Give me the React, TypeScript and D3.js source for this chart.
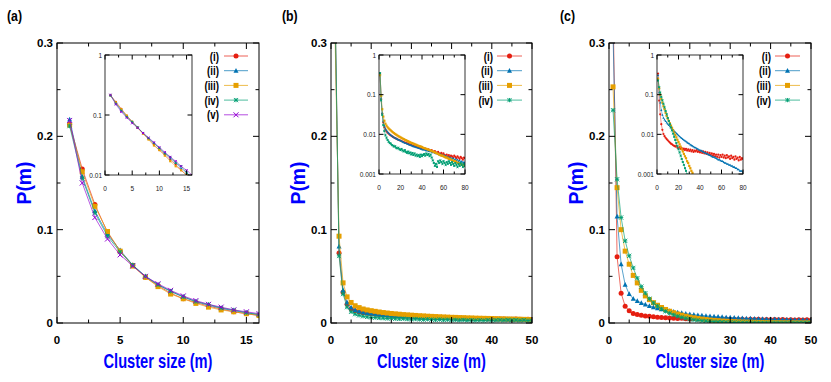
import React from 'react';
import * as d3 from 'd3';

// ---- data (m = 1, 2, 3, ...) ----
const aI = [0.213, 0.165, 0.127, 0.097, 0.077, 0.062, 0.049, 0.040, 0.032, 0.026, 0.022, 0.018, 0.015, 0.012, 0.010, 0.008];
const aII = [0.218, 0.157, 0.120, 0.095, 0.078, 0.062, 0.050, 0.041, 0.034, 0.028, 0.023, 0.019, 0.016, 0.013, 0.011, 0.009];
const aIII = [0.212, 0.162, 0.125, 0.098, 0.077, 0.061, 0.049, 0.039, 0.031, 0.026, 0.021, 0.017, 0.014, 0.012, 0.010, 0.008];
const aIV = [0.211, 0.155, 0.118, 0.093, 0.076, 0.062, 0.050, 0.041, 0.034, 0.028, 0.023, 0.020, 0.016, 0.014, 0.011, 0.009];
const aV = [0.217, 0.150, 0.113, 0.090, 0.073, 0.061, 0.050, 0.042, 0.035, 0.029, 0.024, 0.020, 0.017, 0.014, 0.012, 0.010];

const bI = [0.34, 0.075, 0.033, 0.020, 0.0150, 0.0130, 0.0118, 0.0110, 0.0104, 0.0098,
  0.0094, 0.0090, 0.0086, 0.0083, 0.0080, 0.0078, 0.0075, 0.0073, 0.0071, 0.0070,
  0.0067, 0.0066, 0.0064, 0.0062, 0.0061, 0.0059, 0.0058, 0.0056, 0.0055, 0.0054,
  0.0052, 0.0051, 0.0050, 0.0049, 0.0048, 0.0047, 0.0046, 0.0045, 0.0044, 0.0046,
  0.0043, 0.0042, 0.0044, 0.0041, 0.0040, 0.0042, 0.0039, 0.0038, 0.0040, 0.0037,
  0.0036, 0.0038, 0.0035, 0.0034, 0.0036, 0.0033, 0.0032, 0.0034, 0.0031, 0.0033,
  0.0030, 0.0029, 0.0031, 0.0028, 0.0030, 0.0027, 0.0029, 0.0028, 0.0026, 0.0029,
  0.0027, 0.0025, 0.0028, 0.0026, 0.0024, 0.0027, 0.0025, 0.0023, 0.0026, 0.0025];
const bII = [0.33, 0.082, 0.035, 0.022, 0.0165, 0.0140, 0.0126, 0.0116, 0.0108, 0.0101,
  0.0096, 0.0091, 0.0087, 0.0084, 0.0081, 0.0078, 0.0076, 0.0073, 0.0071, 0.0069,
  0.0067, 0.0065, 0.0063, 0.0061, 0.0060, 0.0058, 0.0057, 0.0055, 0.0054, 0.0053,
  0.0051, 0.0050, 0.0049, 0.0048, 0.0047, 0.0046, 0.0045, 0.0044, 0.0043, 0.0042,
  0.0041, 0.0042, 0.0040, 0.0039, 0.0040, 0.0038, 0.0037, 0.0038, 0.0036, 0.0035,
  0.0036, 0.0034, 0.0033, 0.0034, 0.0032, 0.0031, 0.0032, 0.0030, 0.0029, 0.0030,
  0.0028, 0.0029, 0.0027, 0.0026, 0.0027, 0.0025, 0.0026, 0.0024, 0.0025, 0.0023,
  0.0024, 0.0022, 0.0023, 0.0021, 0.0022, 0.0020, 0.0021, 0.0019, 0.0020, 0.0019];
const bIII = [0.31, 0.093, 0.043, 0.028, 0.022, 0.0185, 0.0165, 0.0150, 0.0140, 0.0132,
  0.0125, 0.0118, 0.0112, 0.0107, 0.0102, 0.0098, 0.0094, 0.0090, 0.0087, 0.0084,
  0.0081, 0.0078, 0.0076, 0.0073, 0.0071, 0.0069, 0.0067, 0.0065, 0.0063, 0.0061,
  0.0060, 0.0058, 0.0057, 0.0055, 0.0054, 0.0052, 0.0051, 0.0050, 0.0049, 0.0048,
  0.0046, 0.0045, 0.0044, 0.0043, 0.0042, 0.0041, 0.0040, 0.0039, 0.0038, 0.0037,
  0.0036, 0.0035, 0.0034, 0.0033, 0.0032, 0.0031, 0.0030, 0.0029, 0.0029, 0.0028,
  0.0027, 0.0026, 0.0026, 0.0025, 0.0024, 0.0024, 0.0023, 0.0022, 0.0022, 0.0021,
  0.0021, 0.0020, 0.0019, 0.0019, 0.0018, 0.0018, 0.0017, 0.0017, 0.0016, 0.0016];
const bIV = [0.35, 0.072, 0.031, 0.017, 0.0120, 0.0095, 0.0082, 0.0072, 0.0065, 0.0060,
  0.0058, 0.0054, 0.0052, 0.0049, 0.0050, 0.0046, 0.0044, 0.0046, 0.0042, 0.0040,
  0.0043, 0.0039, 0.0037, 0.0040, 0.0036, 0.0034, 0.0037, 0.0033, 0.0035, 0.0031,
  0.0034, 0.0030, 0.0033, 0.0029, 0.0031, 0.0028, 0.0030, 0.0027, 0.0031, 0.0028,
  0.0030, 0.0032, 0.0029, 0.0033, 0.0030, 0.0032, 0.0028, 0.0031, 0.0026, 0.0022,
  0.0019, 0.0016, 0.0018, 0.0015, 0.0021, 0.0019, 0.0022, 0.0020, 0.0018, 0.0021,
  0.0019, 0.0017, 0.0020, 0.0018, 0.0021, 0.0019, 0.0017, 0.0020, 0.0018, 0.0016,
  0.0019, 0.0017, 0.0015, 0.0018, 0.0016, 0.0019, 0.0017, 0.0015, 0.0018, 0.0016];

const cI = [0.34, 0.071, 0.032, 0.018, 0.013, 0.0102, 0.0090, 0.0082, 0.0076, 0.0071,
  0.0066, 0.0062, 0.0058, 0.0056, 0.0053, 0.0051, 0.0049, 0.0052, 0.0046, 0.0044,
  0.0048, 0.0043, 0.0045, 0.0041, 0.0044, 0.0040, 0.0043, 0.0039, 0.0042, 0.0038,
  0.0041, 0.0037, 0.0040, 0.0036, 0.0039, 0.0037, 0.0040, 0.0036, 0.0038, 0.0035,
  0.0038, 0.0034, 0.0037, 0.0033, 0.0036, 0.0032, 0.0035, 0.0031, 0.0034, 0.0030,
  0.0033, 0.0029, 0.0032, 0.0028, 0.0031, 0.0027, 0.0031, 0.0026, 0.0030, 0.0027,
  0.0031, 0.0026, 0.0029, 0.0025, 0.0030, 0.0026, 0.0028, 0.0024, 0.0029, 0.0025,
  0.0027, 0.0023, 0.0028, 0.0024, 0.0026, 0.0022, 0.0027, 0.0023, 0.0025, 0.0024];
const cII = [0.31, 0.114, 0.063, 0.041, 0.031, 0.026, 0.0235, 0.0215, 0.0198, 0.0183,
  0.0170, 0.0158, 0.0147, 0.0137, 0.0128, 0.0120, 0.0113, 0.0106, 0.0100, 0.0094,
  0.0089, 0.0084, 0.0080, 0.0076, 0.0072, 0.0069, 0.0066, 0.0063, 0.0060, 0.0058,
  0.0055, 0.0053, 0.0051, 0.0049, 0.0047, 0.0046, 0.0044, 0.0043, 0.0041, 0.0040,
  0.0039, 0.0038, 0.0036, 0.0035, 0.0034, 0.0033, 0.0032, 0.0031, 0.0030, 0.0029,
  0.0028, 0.0027, 0.0027, 0.0026, 0.0025, 0.0024, 0.0023, 0.0023, 0.0022, 0.0021,
  0.0021, 0.0020, 0.0019, 0.0019, 0.0018, 0.0018, 0.0017, 0.0017, 0.0016, 0.0016,
  0.0015, 0.0015, 0.0014, 0.0014, 0.0013, 0.0013, 0.0012, 0.0012, 0.0012, 0.0011];
const cIII = [0.253, 0.145, 0.100, 0.077, 0.063, 0.051, 0.043, 0.035, 0.029, 0.025,
  0.0218, 0.0190, 0.0166, 0.0145, 0.0126, 0.0110, 0.0096, 0.0084, 0.0073, 0.0064,
  0.0056, 0.0049, 0.0042, 0.0037, 0.0032, 0.0028, 0.0025, 0.0021, 0.0019, 0.0016,
  0.0014, 0.0012, 0.00107, 0.00093, 0.00081, 0.00071, 0.00062, 0.00054, 0.00047, 0.00041,
  0.00036, 0.00031, 0.00027, 0.00024, 0.00021, 0.00018, 0.00016, 0.00014, 0.00012, 0.00011];
const cIV = [0.228, 0.154, 0.113, 0.088, 0.072, 0.059, 0.048, 0.039, 0.032, 0.026,
  0.0215, 0.0180, 0.0150, 0.0125, 0.0104, 0.0087, 0.0072, 0.0060, 0.0050, 0.0042,
  0.0035, 0.0029, 0.0024, 0.0020, 0.0017, 0.0014, 0.0012, 0.00098, 0.00082, 0.00068,
  0.00057, 0.00047, 0.00039, 0.00033, 0.00027, 0.00023, 0.00019, 0.00016, 0.00013, 0.00011,
  0.00009, 0.00008, 0.00006, 0.00005, 0.00004, 0.00004, 0.00003, 0.00003, 0.00002, 0.00002];

const COLORS = ['#e51e10', '#0072b2', '#e69f00', '#009e73', '#9400d3'];
const LABELS = ['(i)', '(ii)', '(iii)', '(iv)', '(v)'];
const SHAPES = ['circle', 'triangle', 'square', 'star', 'cross'];

const mainYMajor = [0, 0.1, 0.2, 0.3];
const mainYMinor = [0.05, 0.15, 0.25];
const insetYLabels = ['1', '0.1', '0.01', '0.001'];

const FONT = '"Liberation Sans", Arial, sans-serif';

const panels = [
  {
    id: 'a', tag: '(a)', tagX: 7,
    left: 57, right: 259, top: 43, bottom: 323,
    xMax: 16, xMajor: [0, 5, 10, 15], xMinor: [2.5, 7.5, 12.5],
    series: [aI, aII, aIII, aIV, aV],
    inset: { left: 105, right: 192, top: 55, bottom: 175, xMax: 16, xMajor: [0, 5, 10, 15], xMinor: [2.5, 7.5, 12.5], yMin: 0.01 },
    legend: { textX: 219, x1: 224, x2: 248 },
  },
  {
    id: 'b', tag: '(b)', tagX: 282,
    left: 331, right: 532, top: 43, bottom: 323,
    xMax: 50, xMajor: [0, 10, 20, 30, 40, 50], xMinor: [5, 15, 25, 35, 45],
    series: [bI, bII, bIII, bIV],
    inset: { left: 379, right: 465, top: 55, bottom: 174, xMax: 80, xMajor: [0, 20, 40, 60, 80], xMinor: [10, 30, 50, 70], yMin: 0.001 },
    legend: { textX: 493, x1: 497, x2: 522 },
  },
  {
    id: 'c', tag: '(c)', tagX: 560,
    left: 609, right: 811, top: 43, bottom: 323,
    xMax: 50, xMajor: [0, 10, 20, 30, 40, 50], xMinor: [5, 15, 25, 35, 45],
    series: [cI, cII, cIII, cIV],
    inset: { left: 657, right: 743, top: 55, bottom: 174, xMax: 80, xMajor: [0, 20, 40, 60, 80], xMinor: [10, 30, 50, 70], yMin: 0.001 },
    legend: { textX: 771, x1: 775, x2: 800 },
  },
];

function Marker({ shape, x, y, s, color }) {
  const h = s / 2;
  if (shape === 'circle') return <circle cx={x} cy={y} r={h} fill={color} />;
  if (shape === 'square') return <rect x={x - h} y={y - h} width={s} height={s} fill={color} />;
  if (shape === 'triangle')
    return <path d={`M${x},${y - h * 1.1}L${x + h},${y + h * 0.8}L${x - h},${y + h * 0.8}Z`} fill={color} />;
  if (shape === 'star') {
    const k = h * 0.85;
    return (
      <path
        d={`M${x - k},${y}H${x + k}M${x},${y - k}V${y + k}M${x - k},${y - k}L${x + k},${y + k}M${x - k},${y + k}L${x + k},${y - k}`}
        stroke={color} strokeWidth={0.9} fill="none"
      />
    );
  }
  return (
    <path d={`M${x - h},${y - h}L${x + h},${y + h}M${x - h},${y + h}L${x + h},${y - h}`} stroke={color} strokeWidth={1} fill="none" />
  );
}

function Ticks({ x, y, xMajor, xMinor, yMajor, yMinor, L, l }) {
  const [x0, x1] = x.range();
  const [y0, y1] = y.range();
  let d = '';
  xMajor.forEach((v) => { const p = x(v); d += `M${p},${y0}v${-L}M${p},${y1}v${L}`; });
  xMinor.forEach((v) => { const p = x(v); d += `M${p},${y0}v${-l}M${p},${y1}v${l}`; });
  yMajor.forEach((v) => { const p = y(v); d += `M${x0},${p}h${L}M${x1},${p}h${-L}`; });
  yMinor.forEach((v) => { const p = y(v); d += `M${x0},${p}h${l}M${x1},${p}h${-l}`; });
  return <path d={d} stroke="#000" strokeWidth={1} fill="none" />;
}

function Panel({ p }) {
  const x = d3.scaleLinear().domain([0, p.xMax]).range([p.left, p.right]);
  const y = d3.scaleLinear().domain([0, 0.3]).range([p.bottom, p.top]);
  const ins = p.inset;
  const xi = d3.scaleLinear().domain([0, ins.xMax]).range([ins.left, ins.right]);
  const yi = d3.scaleLog().domain([ins.yMin, 1]).range([ins.bottom, ins.top]);
  const yiTicks = ins.yMin === 0.01 ? [1, 0.1, 0.01] : [1, 0.1, 0.01, 0.001];

  const line = d3.line<number>().x((_, i) => x(i + 1)).y((v) => y(v));
  const lineI = d3.line<number>().x((_, i) => xi(i + 1)).y((v) => yi(v));

  const cx = (p.left + p.right) / 2;
  const cy = (p.top + p.bottom) / 2;

  return (
    <g>
      <defs>
        <clipPath id={`clip-${p.id}`}>
          <rect x={p.left} y={p.top} width={p.right - p.left} height={p.bottom - p.top} />
        </clipPath>
        <clipPath id={`clipi-${p.id}`}>
          <rect x={ins.left} y={ins.top} width={ins.right - ins.left} height={ins.bottom - ins.top} />
        </clipPath>
      </defs>

      {/* main series */}
      <g clipPath={`url(#clip-${p.id})`}>
        {p.series.map((s, k) => (
          <g key={k}>
            <path d={line(s.filter((_, i) => i + 1 <= p.xMax + 1))} fill="none" stroke={COLORS[k]} strokeOpacity={0.65} strokeWidth={1} />
            {s.map((v, i) => (i + 1 <= p.xMax ?
              <Marker key={i} shape={SHAPES[k]} x={x(i + 1)} y={y(v)} s={5} color={COLORS[k]} /> : null))}
          </g>
        ))}
      </g>

      {/* inset series */}
      <g clipPath={`url(#clipi-${p.id})`}>
        {p.series.map((s, k) => (
          <g key={k}>
            <path d={lineI(s)} fill="none" stroke={COLORS[k]} strokeOpacity={0.6} strokeWidth={0.8} />
            {s.map((v, i) => (
              <Marker key={i} shape={SHAPES[k]} x={xi(i + 1)} y={yi(v)} s={2.2} color={COLORS[k]} />
            ))}
          </g>
        ))}
      </g>

      {/* main frame */}
      <rect x={p.left} y={p.top} width={p.right - p.left} height={p.bottom - p.top} fill="none" stroke="#000" strokeWidth={1} />
      <Ticks x={x} y={y} xMajor={p.xMajor} xMinor={p.xMinor} yMajor={mainYMajor} yMinor={mainYMinor} L={6} l={3.5} />
      {mainYMajor.map((v) => (
        <text key={v} x={p.left - 4} y={y(v) + 4} textAnchor="end" fontSize={11.5} fontWeight="bold" fontFamily={FONT}>
          {v === 0 ? '0' : String(v)}
        </text>
      ))}
      {p.xMajor.map((v) => (
        <text key={v} x={x(v)} y={344} textAnchor="middle" fontSize={11.5} fontWeight="bold" fontFamily={FONT}>
          {String(v)}
        </text>
      ))}

      {/* inset frame */}
      <rect x={ins.left} y={ins.top} width={ins.right - ins.left} height={ins.bottom - ins.top} fill="none" stroke="#000" strokeWidth={0.8} />
      <Ticks x={xi} y={yi} xMajor={ins.xMajor} xMinor={ins.xMinor} yMajor={yiTicks} yMinor={[]} L={4.5} l={2.5} />
      {yiTicks.map((v, k) => (
        <text key={v} x={ins.left - 3} y={yi(v) + 2.5} textAnchor="end" fontSize={6.5} fontFamily={FONT} fill="#222">
          {insetYLabels[k]}
        </text>
      ))}
      {ins.xMajor.map((v) => (
        <text key={v} x={xi(v)} y={ins.bottom + 16} textAnchor="middle" fontSize={6.5} fontFamily={FONT} fill="#222">
          {String(v)}
        </text>
      ))}

      {/* legend */}
      {p.series.map((_, k) => {
        const ly = 56 + k * 14.7;
        const mx = (p.legend.x1 + p.legend.x2) / 2;
        return (
          <g key={k}>
            <text transform={`translate(${p.legend.textX},${ly + 4.5}) scale(0.78,1)`} textAnchor="end" fontSize={12.5} fontWeight="bold" fontFamily={FONT}>
              {LABELS[k]}
            </text>
            <line x1={p.legend.x1} x2={p.legend.x2} y1={ly} y2={ly} stroke={COLORS[k]} strokeOpacity={0.7} strokeWidth={1} />
            <Marker shape={SHAPES[k]} x={mx} y={ly} s={5} color={COLORS[k]} />
          </g>
        );
      })}

      {/* titles */}
      <text x={cx} y={368} textAnchor="middle" fontSize={21} fontWeight="bold" fontFamily={FONT} fill="#0000ff"
        textLength={109} lengthAdjust="spacingAndGlyphs">
        Cluster size (m)
      </text>
      <text transform={`translate(${p.left - 26},${cy}) rotate(-90)`} textAnchor="middle" fontSize={21} fontWeight="bold"
        fontFamily={FONT} fill="#0000ff" textLength={43} lengthAdjust="spacingAndGlyphs">
        P(m)
      </text>
      <text transform={`translate(${p.tagX},21) scale(0.88,1)`} fontSize={14} fontWeight="bold" fontFamily={FONT}>
        {p.tag}
      </text>
    </g>
  );
}

export default function App() {
  return (
    <svg width={831} height={382} style={{ position: 'absolute', left: 0, top: 0, background: '#fff' }}>
      {panels.map((p) => (
        <Panel key={p.id} p={p} />
      ))}
    </svg>
  );
}
